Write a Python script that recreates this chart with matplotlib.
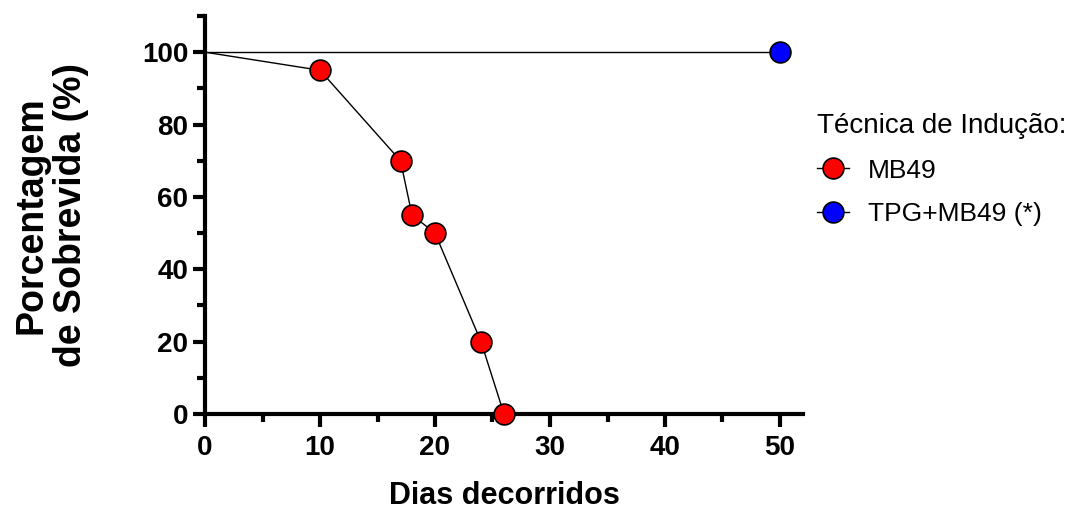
import matplotlib
matplotlib.use("Agg")
import matplotlib.pyplot as plt
from matplotlib.lines import Line2D
from matplotlib.ticker import MultipleLocator

# Data
mb49_days = [0, 10, 17, 18, 20, 24, 26]
mb49_surv = [100, 95, 70, 55, 50, 20, 0]
tpg_days = [0, 50]
tpg_surv = [100, 100]
series_labels = ["MB49", "TPG+MB49 (*)"]
legend_title = "Técnica de Indução:"
x_ticks = [0, 10, 20, 30, 40, 50]
y_ticks = [0, 20, 40, 60, 80, 100]

plt.rcParams['font.family'] = ['Liberation Sans', 'DejaVu Sans']

fig = plt.figure(figsize=(10.77, 5.09), dpi=100)
ax = fig.add_axes([205 / 1077, 1 - 414 / 509, 598 / 1077, 398 / 509])

lw = 1.0
ms = 15
mew = 1.2
ax.plot(tpg_days, tpg_surv, color='black', lw=lw, zorder=2, clip_on=False)
ax.plot(tpg_days[1:], tpg_surv[1:], 'o', ms=ms, mfc='#0000ff', mec='black', mew=mew, zorder=3, clip_on=False)
ax.plot(mb49_days, mb49_surv, color='black', lw=lw, zorder=2, clip_on=False)
ax.plot(mb49_days[1:], mb49_surv[1:], 'o', ms=ms, mfc='#ff0000', mec='black', mew=mew, zorder=3, clip_on=False)

ax.set_xlim(0, 52)
ax.set_ylim(0, 110)
ax.set_xticks(x_ticks)
ax.xaxis.set_minor_locator(MultipleLocator(5))
ax.set_yticks(y_ticks)
ax.yaxis.set_minor_locator(MultipleLocator(10))

for s in ['top', 'right']:
    ax.spines[s].set_visible(False)
for s in ['left', 'bottom']:
    ax.spines[s].set_linewidth(3)
    ax.spines[s].set_capstyle('projecting')
    ax.spines[s].set_zorder(1)

ax.tick_params(which='major', direction='out', length=9, width=3)
ax.tick_params(which='minor', direction='out', length=5.5, width=3)
ax.tick_params(axis='x', which='major', pad=6)
ax.tick_params(axis='y', which='major', pad=3)
for lab in ax.get_xticklabels() + ax.get_yticklabels():
    lab.set_fontfamily(['Liberation Sans Narrow', 'Liberation Sans'])
    lab.set_fontweight('bold')
    lab.set_fontsize(20)

ax.set_xlabel("Dias decorridos", fontsize=22, fontweight='bold', va='top')
ax.xaxis.set_label_coords(0.5, -(481 - 414) / 398)
ax.set_ylabel("Porcentagem\nde Sobrevida (%)", fontsize=27, fontweight='bold', linespacing=1.12)
ax.yaxis.set_label_coords(-(205 - 89) / 598, 0.5)

handles = [
    Line2D([], [], color='black', lw=lw, marker='o', ms=ms, mfc='#ff0000', mec='black', mew=mew),
    Line2D([], [], color='black', lw=lw, marker='o', ms=ms, mfc='#0000ff', mec='black', mew=mew),
]
leg = fig.legend(handles, series_labels, title=legend_title, loc='upper left',
                 bbox_to_anchor=(817 / 1077, 1 - 113 / 509), frameon=False, fontsize=19,
                 title_fontsize=20, handlelength=1.2, handletextpad=0.72,
                 labelspacing=0.74, borderpad=0, borderaxespad=0, alignment='left')

fig.savefig("out.png", dpi=100)
